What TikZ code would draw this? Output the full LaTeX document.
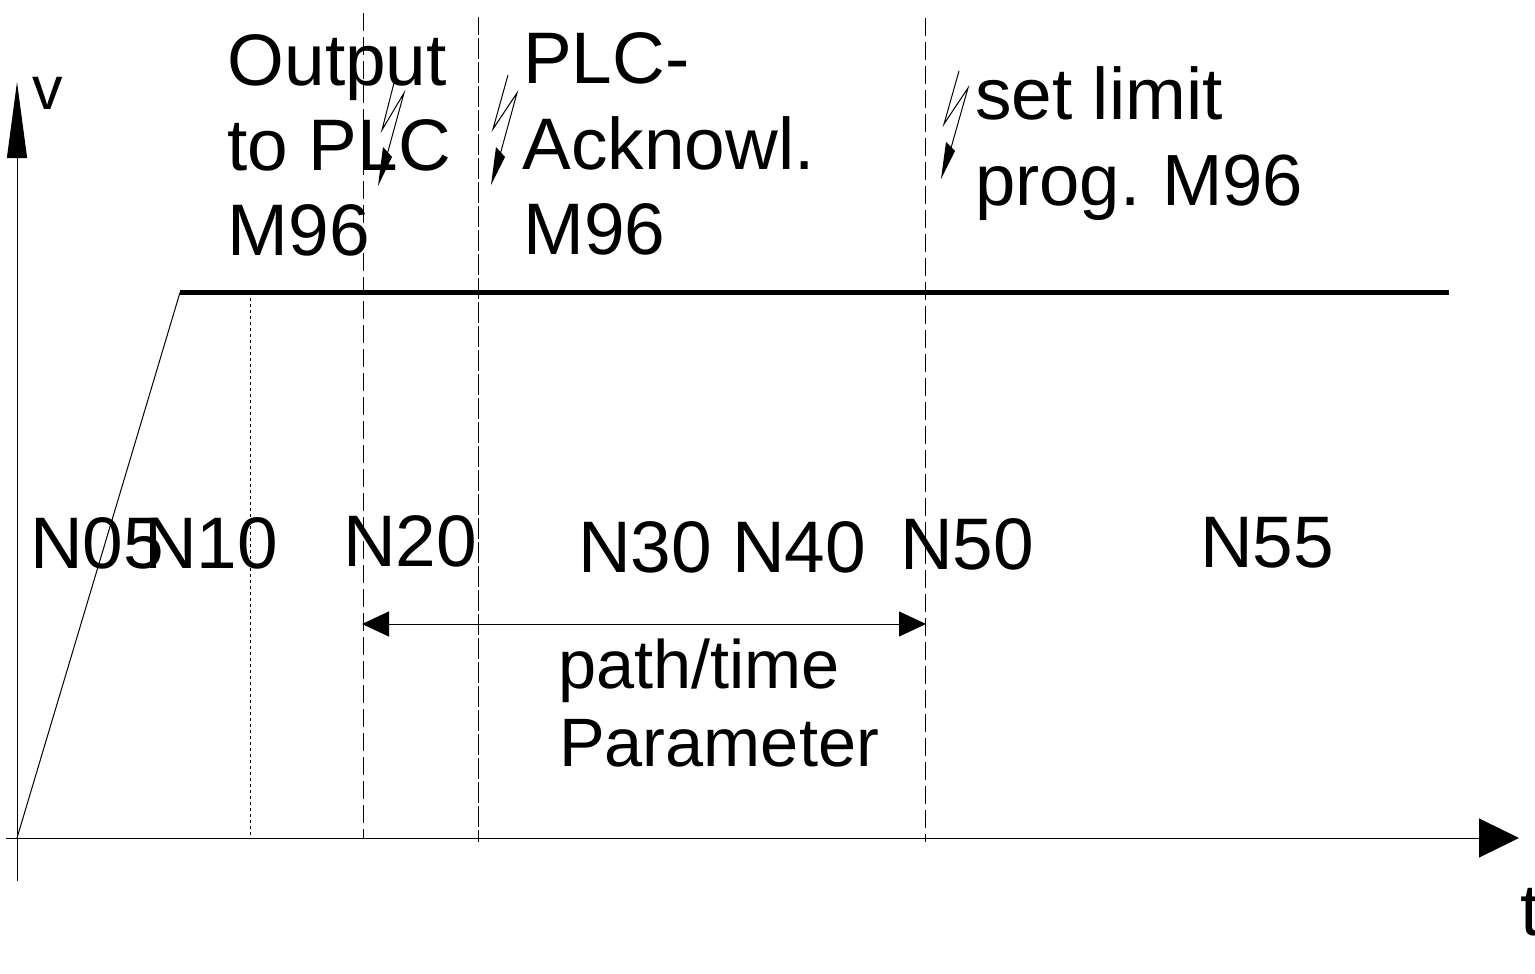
\documentclass[tikz,border=0pt]{standalone}
\usepackage{fontspec}
\setmainfont{Liberation Sans}
\usetikzlibrary{arrows.meta}
\tikzset{
  lbl/.style={anchor=base west,inner sep=0pt,font=\fontsize{73}{85}\selectfont,align=left,text=black},
  lblsmall/.style={lbl,font=\fontsize{68.5}{78}\selectfont},
  lblv/.style={lbl,font=\fontsize{61}{70}\selectfont},
  thin line/.style={line width=1pt,black},
  dash line/.style={line width=1pt,black,dash pattern=on 18pt off 6pt},
  dash long/.style={line width=1pt,black,dash pattern=on 21pt off 3pt,dash phase=3pt},
  dot line/.style={line width=1pt,black,dash pattern=on 3pt off 3pt},
  bolt/.style={line width=1pt,black,line join=miter},
  bolthead/.style={fill=black,draw=none},
}
\begin{document}
\begin{tikzpicture}[x=1pt,y=-1pt]
\useasboundingbox (0,0) rectangle (1535,974);
\clip (0,0) rectangle (1535,974);
% text
\node[lbl] (output) at (227.5,85) {Output};
\node[lbl] (toplc) at (227.5,170) {to PLC};
\node[lbl] (m96a) at (227.5,255) {M96};
\node[lbl] (plc) at (523,84) {PLC-};
\node[lbl] (ack) at (522.5,169) {Acknowl.};
\node[lbl] (m96b) at (523,254) {M96};
\node[lbl] (setlimit) at (975,120) {set limit};
\node[lbl,font=\fontsize{72.5}{85}\selectfont] (prog) at (975,205) {prog.\hspace{-5pt} M96};
\node[lblv] (v) at (32,110) {v};
\node[lbl] (t) at (1520,935) {t};
\node[lbl] (n05) at (30,568) {N05};
\node[lbl] (n10) at (144,568) {N10};
\node[lbl] (n20) at (343,566) {N20};
\node[lbl] (n30) at (578,572) {N30};
\node[lbl] (n40) at (732,572) {N40};
\node[lbl] (n50) at (900,569) {N50};
\node[lbl] (n55) at (1200,567) {N55};
\node[lblsmall] (path) at (558,688) {path/time};
\node[lblsmall] (param) at (559,766) {Parameter};
% axes
\coordinate (ybot) at (17,881);
\coordinate (ytop) at (17,82);
\coordinate (xleft) at (6,838);
\coordinate (xright) at (1519,838);
\coordinate (origin) at (17,838);
\coordinate (rampend) at (180,292.5);
\coordinate (flatend) at (1449,292.5);
\draw[thin line,-{Triangle[length=76pt,width=20pt]}] (ybot) -- (ytop);
\draw[thin line,-{Triangle[length=40pt,width=39pt]}] (xleft) -- (xright);
\draw[thin line] (origin) -- (rampend);
\draw[line width=5pt,black] (rampend) -- (flatend);
% verticals
\coordinate (d10t) at (250.5,292); \coordinate (d10b) at (250.5,838);
\coordinate (d20t) at (363.5,13);  \coordinate (d20b) at (363.5,838);
\coordinate (d30t) at (478.5,17);  \coordinate (d30b) at (478.5,842);
\coordinate (d50t) at (925.5,18);  \coordinate (d50b) at (925.5,842);
\draw[dot line] (d10t) -- (d10b);
\draw[dash line] (d20t) -- (d20b);
\draw[dash long] (d30t) -- (d30b);
\draw[dash line] (d50t) -- (d50b);
% dimension
\coordinate (dimL) at (362,624);
\coordinate (dimR) at (926,624);
\draw[thin line,{Triangle[length=27pt,width=25pt]}-{Triangle[length=27pt,width=25pt]}] (dimL) -- (dimR);
% lightning bolts
\draw[bolt] (396,75) -- (382,130) -- (404,93) -- (387,155);
\fill[bolthead] (383,147) -- (392,157) -- (378,186) -- cycle;
\draw[bolt] (508,75) -- (493,129) -- (517,93) -- (500,155);
\fill[bolthead] (496,147) -- (505,157) -- (491,185) -- cycle;
\draw[bolt] (959,71) -- (944,124) -- (968,88) -- (951,148);
\fill[bolthead] (946,142) -- (955,151) -- (941,179) -- cycle;
\end{tikzpicture}
\end{document}
